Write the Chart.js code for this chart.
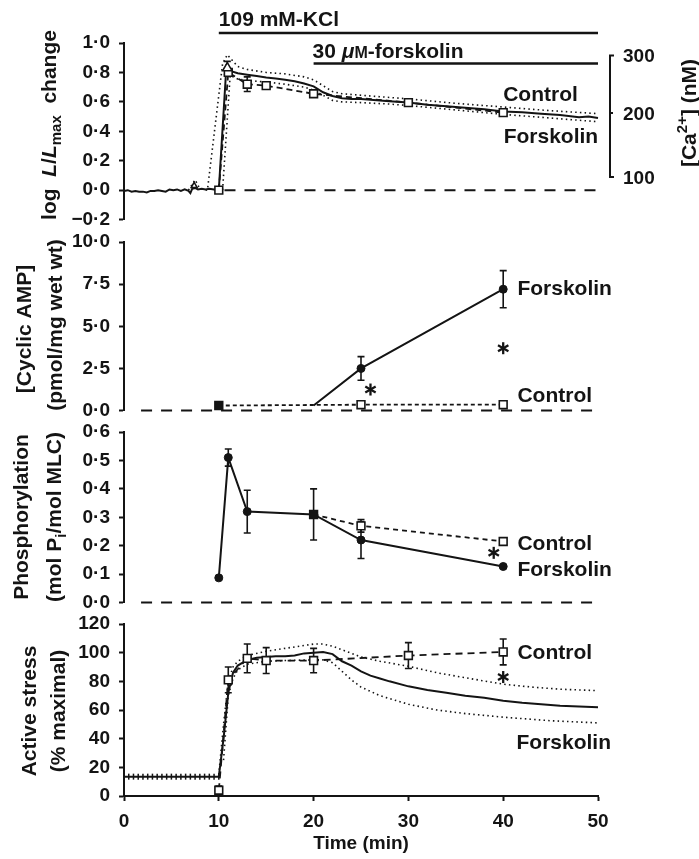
<!DOCTYPE html>
<html><head><meta charset="utf-8">
<script src="https://cdn.jsdelivr.net/npm/chart.js@4/dist/chart.umd.min.js"></script>
<style>
html,body{margin:0;padding:0;background:#fff;}
#wrap{position:relative;width:699px;height:859px;overflow:hidden;background:#fff;}
canvas{position:absolute;left:0;}
</style></head><body>
<div id="wrap">
<canvas id="c1" width="699" height="240" style="top:0px"></canvas>
<canvas id="c2" width="699" height="210" style="top:221px"></canvas>
<canvas id="c3" width="699" height="212" style="top:411px"></canvas>
<canvas id="c4" width="699" height="259" style="top:600px"></canvas>
</div>
<script>
// ---------------- DATA ----------------
const timeTicks = [0, 10, 20, 30, 40, 50];
const kclPeriod = [10, 50];
const forskolinPeriod = [20, 50];

// Panel A: log L/Lmax (Ca2+)
const caForskT = [0,0.4,0.8,1.2,1.6,2,2.4,2.8,3.2,3.6,4,4.4,4.8,5.2,5.6,6,6.4,6.8,7,7.2,7.5,7.8,8.2,8.6,9,9.5,10,10.8,11.2,12,13,14,15,16,17,18,19,20,21,22,23,24,25,26,27,28,30,32,34,36,38,40,42,44,46,48,49,50];
const caForskV = [-0.005,0,-0.01,-0.005,-0.01,-0.01,-0.015,-0.005,-0.005,0,-0.005,-0.01,0.005,0,0.005,-0.005,0.005,-0.005,-0.02,0.01,0.015,0.005,0.01,0.005,0.01,0.005,0,0.84,0.81,0.795,0.785,0.775,0.765,0.758,0.75,0.74,0.725,0.705,0.665,0.64,0.625,0.62,0.62,0.615,0.61,0.605,0.595,0.58,0.57,0.56,0.55,0.535,0.53,0.52,0.51,0.495,0.5,0.49];
const caUpperT = [6.8,7.5,8,8.8,10.4,10.9,12,13,15,17,19,20,21,22,23,25,28,30,35,40,45,50];
const caUpperV = [0,0.07,0.01,0,0.86,0.92,0.84,0.82,0.80,0.79,0.77,0.75,0.71,0.67,0.655,0.645,0.63,0.62,0.59,0.565,0.54,0.52];
const caLowerT = [10.4,11.2,12,13,15,17,19,20,21,22,23,25,28,30,35,40,45,50];
const caLowerV = [0,0.78,0.755,0.745,0.735,0.72,0.70,0.68,0.645,0.61,0.60,0.595,0.585,0.575,0.545,0.515,0.49,0.465];
const caCtrlT = [10, 11, 13, 15, 20, 30, 40];
const caCtrlV = [0, 0.80, 0.72, 0.71, 0.655, 0.595, 0.527];
const caCtrlErr = [0, 0, 0.05, 0, 0, 0, 0];
const caTriT = [7.4, 10.9];
const caTriV = [0.03, 0.83];
const caTriErr = [0, 0.045];
const caAxisLabels = ['300', '200', '100'];
const caAxisPos = [0.915, 0.525, 0.09];

// Panel B: cyclic AMP
const campCtrlT = [10, 25, 40];
const campCtrlV = [0.3, 0.35, 0.35];
const campCtrlErr = [0.2, 0, 0];
const campForskT = [20, 25, 40];
const campForskV = [0.3, 2.5, 7.2];
const campForskErr = [0, 0.7, 1.1];
const campStarT = [26, 40];
const campStarV = [1.25, 3.7];

// Panel C: MLC phosphorylation
const mlcCtrlT = [20, 25, 40];
const mlcCtrlV = [0.31, 0.27, 0.215];
const mlcCtrlErr = [0, 0.022, 0];
const mlcForskT = [10, 11, 13, 20, 25, 40];
const mlcForskV = [0.087, 0.51, 0.32, 0.31, 0.22, 0.127];
const mlcForskErr = [0, 0.03, 0.075, 0.09, 0.065, 0];
const mlcStarT = [39];
const mlcStarV = [0.175];

// Panel D: active stress
const stressBaseT = [0,0.5,1,1.5,2,2.5,3,3.5,4,4.5,5,5.5,6,6.5,7,7.5,8,8.5,9,9.5,10];
const stressBaseV = [13.5,13.5,13.5,13.5,13.5,13.5,13.5,13.5,13.5,13.5,13.5,13.5,13.5,13.5,13.5,13.5,13.5,13.5,13.5,13.5,13.5];
const stressForskT = [10,10.5,11,11.5,12,13,14,15,16,17,18,19,20,21,22,23,24,25,26,27,28,30,32,34,36,38,40,42,44,46,48,50];
const stressForskV = [13.5,40,72,86,91,95,96.5,97,97.5,97.5,98,99.5,100,100.5,99,94,91,87,84,82,80,76.5,74,72,70,68.5,66.5,65,64,63,62.5,62];
const stressUpperT = [10,10.5,11,11.5,12,13,15,17,19,20,21,22,23,24,25,27,30,33,36,40,43,46,50];
const stressUpperV = [15,50,80,90,94,98,101,103,105,106,106,104.5,102,99.5,97,94,90.5,86,82.5,78,76,74.5,73.5];
const stressLowerT = [10.5,11,11.5,12,13,15,17,20,21,22,23,24,25,27,30,33,36,40,45,50];
const stressLowerV = [25,70,82,88,92,94,94.5,95,95,93,87,81,76,70,64,60,57.5,55,52.5,51];
const stressCtrlT = [10, 11, 13, 15, 20, 30, 40];
const stressCtrlV = [4, 81, 96, 94.5, 94.5, 98, 100.5];
const stressCtrlErr = [3, 9, 10, 9, 8.5, 9, 9];
const stressStarT = [40];
const stressStarV = [83];

// ---------------- STYLE / HELPERS ----------------
const F = '"Liberation Sans", Arial, Helvetica, sans-serif';
const B21 = `bold 21px ${F}`, BI21 = `italic bold 21px ${F}`, B15 = `bold 15px ${F}`, B16 = `bold 16px ${F}`, B19 = `bold 19px ${F}`;
const INK = '#141414';
const CAP21 = 15.2, CAP19 = 13.8;

const pts = (t, v) => t.map((x, i) => ({x: x, y: v[i]}));
function trace(t, v, extra) {
  return Object.assign({data: pts(t, v), borderColor: INK, borderWidth: 2, pointRadius: 0, fill: false, tension: 0, pointHitRadius: 0, clip: 12}, extra || {});
}
const DOT = {borderDash: [1.5, 3.2], borderWidth: 1.6};
const ZERO = {borderDash: [11, 9], borderWidth: 2};
const SQ = {pointStyle: 'rect', pointRadius: 5.5, pointBackgroundColor: '#fff', pointBorderColor: INK, pointBorderWidth: 1.6};
const CIRC = {pointStyle: 'circle', pointRadius: 4, pointBackgroundColor: INK, pointBorderColor: INK, pointBorderWidth: 1};

function rich(ctx, parts, x, y, rot, align, capH) {
  ctx.save();
  ctx.translate(x, y); ctx.rotate(rot || 0);
  ctx.textAlign = 'left'; ctx.textBaseline = 'alphabetic'; ctx.fillStyle = INK;
  let w = 0;
  const ws = parts.map(p => { ctx.font = p.f; const m = ctx.measureText(p.t).width; w += m; return m; });
  let xx = align === 'left' ? 0 : -w / 2;
  parts.forEach((p, i) => { ctx.font = p.f; ctx.fillText(p.t, xx, capH / 2 + (p.dy || 0)); xx += ws[i]; });
  ctx.restore();
}
function drawStar(ctx, x, y) {
  ctx.save(); ctx.strokeStyle = INK; ctx.lineWidth = 2.3; ctx.lineCap = 'butt';
  const r = 6;
  [90, 30, 150].forEach(a => {
    const rad = a * Math.PI / 180;
    ctx.beginPath(); ctx.moveTo(x - r * Math.cos(rad), y - r * Math.sin(rad)); ctx.lineTo(x + r * Math.cos(rad), y + r * Math.sin(rad)); ctx.stroke();
  });
  ctx.restore();
}
function fmtDot(v) {
  if (Math.abs(v) < 1e-9) return '0·0';
  const s = Math.abs(v).toFixed(1).replace('.', '·');
  return v < 0 ? '−' + s : s;
}

const extras = {
  c1: {top: 0,
    titles: [{x: 48, y: 125, parts: [{t: 'log  ', f: B21}, {t: 'L', f: BI21}, {t: '/', f: B21}, {t: 'L', f: BI21}, {t: 'max', f: B15, dy: 5}, {t: '  change', f: B21}]}],
    labels: [{t: 'Control', x: 40, y: 0.66}, {t: 'Forskolin', x: 40.05, y: 0.375}],
    stars: [], ca: true, bars: true},
  c2: {top: 221,
    titles: [{x: 23, y: 329, parts: [{t: '[Cyclic AMP]', f: B21}]}, {x: 54, y: 325, parts: [{t: '(pmol/mg wet wt)', f: B21}]}],
    labels: [{t: 'Forskolin', x: 41.5, y: 7.3}, {t: 'Control', x: 41.5, y: 0.95}],
    stars: pts(campStarT, campStarV)},
  c3: {top: 411,
    titles: [{x: 20, y: 517, parts: [{t: 'Phosphorylation', f: B21}]}, {x: 53, y: 517, parts: [{t: '(mol P', f: B21}, {t: 'i', f: B15, dy: 5}, {t: '/mol MLC)', f: B21}]}],
    labels: [{t: 'Control', x: 41.5, y: 0.212}, {t: 'Forskolin', x: 41.5, y: 0.12}],
    stars: pts(mlcStarT, mlcStarV)},
  c4: {top: 600,
    titles: [{x: 28, y: 711, parts: [{t: 'Active stress', f: B21}]}, {x: 57, y: 711, parts: [{t: '(% maximal)', f: B21}]}],
    labels: [{t: 'Control', x: 41.5, y: 101}, {t: 'Forskolin', x: 41.4, y: 38}],
    stars: pts(stressStarT, stressStarV)}
};

const extrasPlugin = {
  id: 'extras',
  beforeDatasetsDraw(chart) {
    const ctx = chart.ctx, xs = chart.scales.x, ys = chart.scales.y;
    ctx.save(); ctx.strokeStyle = INK; ctx.lineWidth = 1.6;
    chart.data.datasets.forEach(ds => {
      if (!ds.errorBars) return;
      ds.data.forEach((p, i) => {
        const e = ds.errorBars[i]; if (!e) return;
        const px = xs.getPixelForValue(p.x);
        const y1 = ys.getPixelForValue(p.y + e), y2 = ys.getPixelForValue(p.y - e);
        ctx.beginPath();
        ctx.moveTo(px, y1); ctx.lineTo(px, y2);
        ctx.moveTo(px - 3.5, y1); ctx.lineTo(px + 3.5, y1);
        ctx.moveTo(px - 3.5, y2); ctx.lineTo(px + 3.5, y2);
        ctx.stroke();
      });
    });
    ctx.restore();
  },
  afterDraw(chart) {
    const ex = extras[chart.canvas.id]; if (!ex) return;
    const ctx = chart.ctx, xs = chart.scales.x, ys = chart.scales.y;
    ex.titles.forEach(t => rich(ctx, t.parts, t.x, t.y - ex.top, -Math.PI / 2, 'center', CAP21));
    ex.labels.forEach(l => rich(ctx, [{t: l.t, f: B21}], xs.getPixelForValue(l.x), ys.getPixelForValue(l.y), 0, 'left', CAP21));
    ex.stars.forEach(s => drawStar(ctx, xs.getPixelForValue(s.x), ys.getPixelForValue(s.y)));
    if (ex.ca) {
      const bx = chart.chartArea.right + 12;
      const yy = caAxisPos.map(v => ys.getPixelForValue(v));
      ctx.save(); ctx.strokeStyle = INK; ctx.lineWidth = 2;
      ctx.beginPath();
      ctx.moveTo(bx + 4, yy[0]); ctx.lineTo(bx, yy[0]); ctx.lineTo(bx, yy[2]); ctx.lineTo(bx + 4, yy[2]);
      ctx.moveTo(bx, yy[1]); ctx.lineTo(bx + 3, yy[1]);
      ctx.stroke(); ctx.restore();
      caAxisLabels.forEach((l, i) => rich(ctx, [{t: l, f: B19}], bx + 13, yy[i], 0, 'left', CAP19));
      rich(ctx, [{t: '[Ca', f: B21}, {t: '2+', f: B15, dy: -9}, {t: '] (nM)', f: B21}], 688, 113, -Math.PI / 2, 'center', CAP21);
    }
    if (ex.bars) {
      const k0 = xs.getPixelForValue(kclPeriod[0]), k1 = xs.getPixelForValue(kclPeriod[1]);
      const f0 = xs.getPixelForValue(forskolinPeriod[0]), f1 = xs.getPixelForValue(forskolinPeriod[1]);
      ctx.save(); ctx.strokeStyle = INK; ctx.lineWidth = 2.4;
      ctx.beginPath(); ctx.moveTo(k0, 33); ctx.lineTo(k1, 33); ctx.moveTo(f0, 63.5); ctx.lineTo(f1, 63.5); ctx.stroke();
      ctx.restore();
      rich(ctx, [{t: '109 mM-KCl', f: B21}], k0, 18.5, 0, 'left', CAP21);
      rich(ctx, [{t: '30 ', f: B21}, {t: 'μ', f: BI21}, {t: 'M', f: B16}, {t: '-forskolin', f: B21}], f0 - 1, 50, 0, 'left', CAP21);
    }
  }
};

function yAxis(min, max, step, cb) {
  return {
    type: 'linear', min: min, max: max,
    ticks: {stepSize: step, callback: cb, font: {family: F, size: 19, weight: 'bold'}, color: INK, padding: 9},
    border: {display: true, color: INK, width: 2},
    grid: {display: true, drawOnChartArea: false, drawTicks: true, tickLength: 5, tickWidth: 2, tickColor: INK},
    afterFit: s => { s.width = 124; }
  };
}
function xHidden() { return {type: 'linear', min: 0, max: 50, display: false}; }

function makeChart(id, datasets, y, x, pad) {
  return new Chart(document.getElementById(id), {
    type: 'line',
    data: {datasets: datasets},
    options: {
      responsive: false, animation: false, devicePixelRatio: 1,
      layout: {padding: pad},
      plugins: {legend: {display: false}, tooltip: {enabled: false}},
      scales: {x: x, y: y},
      events: []
    },
    plugins: [extrasPlugin]
  });
}

// Panel A
makeChart('c1', [
  trace(caTriT, caTriV, {showLine: false, pointStyle: 'triangle', pointRadius: [3.5, 5.5], pointBackgroundColor: '#fff', pointBorderColor: INK, pointBorderWidth: 1.5, errorBars: caTriErr}),
  trace(caCtrlT, caCtrlV, Object.assign({borderDash: [6, 4], borderWidth: 1.8, errorBars: caCtrlErr}, SQ)),
  trace(caForskT, caForskV, {borderWidth: 2}),
  trace(caUpperT, caUpperV, DOT),
  trace(caLowerT, caLowerV, DOT),
  trace([10.6, 50], [0, 0], ZERO)
], yAxis(-0.2, 1.0, 0.2, fmtDot), xHidden(), {top: 43, bottom: 20, left: 0, right: 101});

// Panel B
makeChart('c2', [
  trace(campCtrlT, campCtrlV, Object.assign({borderDash: [4, 3], borderWidth: 1.8, errorBars: campCtrlErr}, SQ, {pointBackgroundColor: [INK, '#fff', '#fff']})),
  trace(campForskT, campForskV, Object.assign({errorBars: campForskErr}, CIRC, {pointRadius: [0, 4, 4]})),
  trace([1.8, 50], [0, 0], ZERO)
], yAxis(0, 10, 2.5, fmtDot), xHidden(), {top: 21, bottom: 20, left: 0, right: 101});

// Panel C
makeChart('c3', [
  trace(mlcCtrlT, mlcCtrlV, Object.assign({borderDash: [5, 4], borderWidth: 1.8, errorBars: mlcCtrlErr}, SQ, {pointBackgroundColor: [INK, '#fff', '#fff']})),
  trace(mlcForskT, mlcForskV, Object.assign({errorBars: mlcForskErr}, CIRC)),
  trace([1.8, 50], [0, 0], ZERO)
], yAxis(0, 0.6, 0.1, fmtDot), xHidden(), {top: 21, bottom: 20, left: 0, right: 101});

// Panel D
const xD = {
  type: 'linear', min: 0, max: 50,
  afterBuildTicks: s => { s.ticks = timeTicks.map(v => ({value: v})); },
  ticks: {font: {family: F, size: 19, weight: 'bold'}, color: INK, padding: 9, callback: v => String(v)},
  border: {display: true, color: INK, width: 2},
  grid: {display: true, drawOnChartArea: false, drawTicks: true, tickLength: 5, tickWidth: 2, tickColor: INK},
  title: {display: true, text: 'Time (min)', font: {family: F, size: 19, weight: 'bold'}, color: INK, padding: {top: 0, bottom: 4}},
  afterFit: s => { s.height = 63; }
};
makeChart('c4', [
  trace(stressCtrlT, stressCtrlV, Object.assign({borderDash: [7, 5], borderWidth: 1.8, errorBars: stressCtrlErr}, SQ)),
  trace(stressBaseT, stressBaseV, {pointStyle: 'line', pointRotation: 90, pointRadius: 3, pointBorderWidth: 1.5, pointBorderColor: INK}),
  trace(stressForskT, stressForskV, {borderWidth: 2}),
  trace(stressUpperT, stressUpperV, DOT),
  trace(stressLowerT, stressLowerV, DOT)
], yAxis(0, 120, 20, v => String(Math.round(v))), xD, {top: 24, bottom: 0, left: 0, right: 101});
</script>
</body></html>
